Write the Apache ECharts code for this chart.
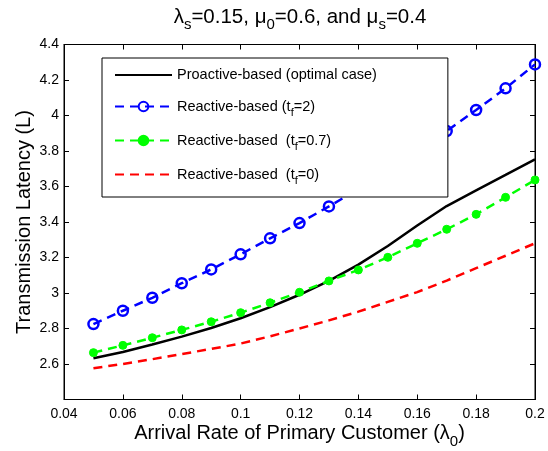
<!DOCTYPE html>
<html><head><meta charset="utf-8">
<script src="https://cdn.jsdelivr.net/npm/echarts@6/dist/echarts.min.js"></script>
<style>html,body{margin:0;padding:0;background:#fff}#c{width:548px;height:451px}</style>
</head><body><div id="c"></div>
<script>
const lambda0 = [0.05,0.06,0.07,0.08,0.09,0.10,0.11,0.12,0.13,0.14,0.15,0.16,0.17,0.18,0.19,0.20];
const proactive = [2.632,2.668,2.710,2.754,2.803,2.858,2.920,2.990,3.068,3.160,3.265,3.380,3.490,3.578,3.665,3.753];
const reactiveT2 = [2.825,2.900,2.973,3.055,3.133,3.218,3.308,3.394,3.488,3.585,3.690,3.800,3.912,4.031,4.153,4.288];
const reactiveT07 = [2.664,2.705,2.748,2.792,2.838,2.889,2.945,3.004,3.068,3.130,3.201,3.280,3.359,3.443,3.539,3.637];
const reactiveT0 = [2.576,2.600,2.627,2.656,2.685,2.715,2.756,2.800,2.846,2.895,2.950,3.005,3.070,3.140,3.210,3.280];
const xTicks = {min:0.04,max:0.2,interval:0.02};
const yTicks = {min:2.4,max:4.4,interval:0.2};
const names = ['Proactive-based (optimal case)','Reactive-based (t_f=2)','Reactive-based  (t_f=0.7)','Reactive-based  (t_f=0)'];

const FONT = 'Liberation Sans, Arial, Helvetica, sans-serif';
const pair = a => a.map((v,i)=>[lambda0[i], v]);
const chart = echarts.init(document.getElementById('c'), null, {renderer:'canvas'});
const bigRich = {s:{fontSize:15, fontFamily:FONT, color:'#000', lineHeight:14, padding:[16,0,0,0]}};
chart.setOption({
  animation:false,
  backgroundColor:'#fff',
  title:{
    text:'λ{s|s}=0.15, μ{s|0}=0.6, and μ{s|s}=0.4',
    left:295, textAlign:'center', top:0,
    textStyle:{fontSize:20.5, fontWeight:'normal', fontFamily:FONT, color:'#000', lineHeight:24,
      rich:bigRich}
  },
  grid:{left:64, right:13, top:44.5, bottom:51.5, outerBoundsMode:'none', containLabel:false,
        show:true, borderColor:'#000', borderWidth:1},
  legend:{
    orient:'vertical', left:102, top:58, z:10,
    itemWidth:57, itemHeight:12, itemGap:11,
    padding:[8,71,11,12],
    backgroundColor:'#fff', borderColor:'#000', borderWidth:1,
    data:[
      {name:names[0], itemStyle:{opacity:0}},
      {name:names[1]},
      {name:names[2]},
      {name:names[3], itemStyle:{opacity:0}}
    ],
    formatter: n => n.replace(/t_f/, 't{s|f}'),
    textStyle:{fontSize:14.5, fontFamily:FONT, color:'#000', lineHeight:18,
      rich:{s:{fontSize:11, fontFamily:FONT, color:'#000', lineHeight:10, padding:[12,0,0,0]}}}
  },
  xAxis:[{
    type:'value', min:xTicks.min, max:xTicks.max, interval:xTicks.interval,
    name:'Arrival Rate of Primary Customer (λ{s|0})', nameLocation:'middle', nameGap:22,
    nameMoveOverlap:false,
    nameTextStyle:{fontSize:20, fontFamily:FONT, color:'#000', lineHeight:24, rich:bigRich},
    axisLine:{lineStyle:{color:'#000',width:1}},
    axisTick:{inside:true, length:5, lineStyle:{color:'#000'}},
    axisLabel:{fontSize:14, fontFamily:FONT, color:'#000', margin:8, showMaxLabel:true, showMinLabel:true},
    splitLine:{show:false}
  },{
    type:'value', position:'top', min:xTicks.min, max:xTicks.max, interval:xTicks.interval,
    axisLine:{show:true, lineStyle:{color:'#000'}},
    axisTick:{inside:true, length:5, lineStyle:{color:'#000'}},
    axisLabel:{show:false}, splitLine:{show:false}
  }],
  yAxis:[{
    type:'value', min:yTicks.min, max:yTicks.max, interval:yTicks.interval,
    name:'Transmission Latency (L)', nameLocation:'middle', nameGap:30,
    nameMoveOverlap:false,
    nameTextStyle:{fontSize:20, fontFamily:FONT, color:'#000'},
    axisLine:{show:true, lineStyle:{color:'#000',width:1}},
    axisTick:{inside:true, length:5, lineStyle:{color:'#000'}},
    axisLabel:{fontSize:14, fontFamily:FONT, color:'#000', margin:5,
      formatter: v => Math.abs(v-2.4)<1e-6 ? '' : String(+v.toFixed(1))},
    splitLine:{show:false}
  },{
    type:'value', position:'right', min:yTicks.min, max:yTicks.max, interval:yTicks.interval,
    axisLine:{show:true, lineStyle:{color:'#000'}},
    axisTick:{inside:true, length:5, lineStyle:{color:'#000'}},
    axisLabel:{show:false}, splitLine:{show:false}
  }],
  series:[
    {name:names[0], type:'line', data:pair(proactive), showSymbol:false, symbol:'none',
     lineStyle:{color:'#000', width:2.5}, itemStyle:{color:'#000'}, z:2},
    {name:names[1], type:'line', data:pair(reactiveT2), symbol:'circle', symbolSize:10,
     lineStyle:{color:'#0000ff', width:2.5, type:[9,6]},
     itemStyle:{color:'rgba(255,255,255,0)', borderColor:'#0000ff', borderWidth:2.5}, z:2},
    {name:names[2], type:'line', data:pair(reactiveT07), symbol:'circle', symbolSize:8,
     lineStyle:{color:'#00ff00', width:2.5, type:[9,6]},
     itemStyle:{color:'#00ff00', borderColor:'#00ff00', borderWidth:1}, z:2},
    {name:names[3], type:'line', data:pair(reactiveT0), symbol:'none', showSymbol:false,
     lineStyle:{color:'#ff0000', width:2.5, type:[9,6]}, itemStyle:{color:'#ff0000'}, z:2}
  ]
});
</script></body></html>
